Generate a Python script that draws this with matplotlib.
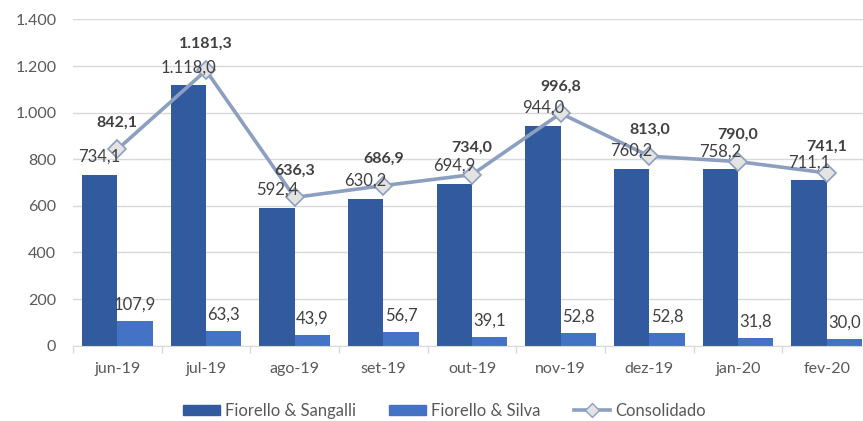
import numpy as np
import matplotlib.pyplot as plt
from matplotlib.lines import Line2D
from matplotlib.patches import Patch

meses = ['jun-19', 'jul-19', 'ago-19', 'set-19', 'out-19', 'nov-19', 'dez-19', 'jan-20', 'fev-20']
sangalli = [734.1, 1118.0, 592.4, 630.2, 694.9, 944.0, 760.2, 758.2, 711.1]
silva = [107.9, 63.3, 43.9, 56.7, 39.1, 52.8, 52.8, 31.8, 30.0]
consolidado = [842.1, 1181.3, 636.3, 686.9, 734.0, 996.8, 813.0, 790.0, 741.1]
yticks = [0, 200, 400, 600, 800, 1000, 1200, 1400]

cor_escuro = '#325A9E'
cor_claro = '#4472C4'
cor_linha = '#8C9FC0'
cor_texto = '#404040'

plt.rcParams['font.family'] = ['Lato', 'DejaVu Sans']


def fmt(v, dec=1):
    s = f"{v:,.{dec}f}"
    return s.replace(',', 'X').replace('.', ',').replace('X', '.')


def plotDatas():
    fig = plt.figure(figsize=(8.63, 4.21), dpi=100)
    ax = fig.add_axes([0.0846, 0.179, 0.9247, 0.7748])
    x = np.arange(len(meses))
    w = 0.4

    ax.bar(x - w / 2, sangalli, w, color=cor_escuro, zorder=2)
    ax.bar(x + w / 2, silva, w, color=cor_claro, zorder=2)
    ax.plot(x, consolidado, color=cor_linha, lw=2.6, marker='D', markersize=9,
            markerfacecolor='#E3E3E3', markeredgecolor=cor_linha, markeredgewidth=1.2, zorder=3)

    for i in range(len(meses)):
        ax.annotate(fmt(sangalli[i]), (x[i] - w / 2, sangalli[i]), xytext=(0, 7),
                    textcoords='offset points', ha='center', va='bottom', fontsize=12, color=cor_texto, zorder=4)
        ax.annotate(fmt(silva[i]), (x[i] + w / 2, silva[i]), xytext=(0, 6),
                    textcoords='offset points', ha='center', va='bottom', fontsize=12, color=cor_texto, zorder=4)
        ax.annotate(fmt(consolidado[i]), (x[i], consolidado[i]), xytext=(0, 14),
                    textcoords='offset points', ha='center', va='bottom', fontsize=11.5, fontweight='bold',
                    color=cor_texto, zorder=4)

    ax.set_xlim(-0.5, len(meses) - 0.5)
    ax.set_ylim(0, 1400)
    ax.set_yticks(yticks)
    ax.set_yticklabels([fmt(v, 0) for v in yticks])
    ax.set_xticks(x)
    ax.set_xticklabels(meses)
    ax.set_xticks(np.arange(len(meses) + 1) - 0.5, minor=True)
    ax.tick_params(axis='x', which='major', length=0, pad=12, labelsize=11.5, labelcolor='#595959')
    ax.tick_params(axis='x', which='minor', length=5, color='#D9D9D9', width=1)
    ax.tick_params(axis='y', length=0, pad=12, labelsize=11.5, labelcolor='#595959')
    ax.grid(axis='y', color='#D9D9D9', lw=1, zorder=0)
    ax.set_axisbelow(True)
    for s in ['top', 'right', 'left']:
        ax.spines[s].set_visible(False)
    ax.spines['bottom'].set_color('#D9D9D9')

    handles = [Patch(color=cor_escuro), Patch(color=cor_claro),
               Line2D([], [], color=cor_linha, lw=2.6, marker='D', markersize=7,
                      markerfacecolor='#E3E3E3', markeredgecolor=cor_linha)]
    fig.legend(handles, ['Fiorello & Sangalli', 'Fiorello & Silva', 'Consolidado'],
               loc='center', bbox_to_anchor=(0.515, 0.024), ncol=3, frameon=False,
               fontsize=12, labelcolor='#595959', handlelength=2.2, handleheight=0.6,
               handletextpad=0.3, columnspacing=2.0)

    fig.savefig('out.png', dpi=100)


def main():
    plotDatas()


if __name__ == '__main__':
    main()
